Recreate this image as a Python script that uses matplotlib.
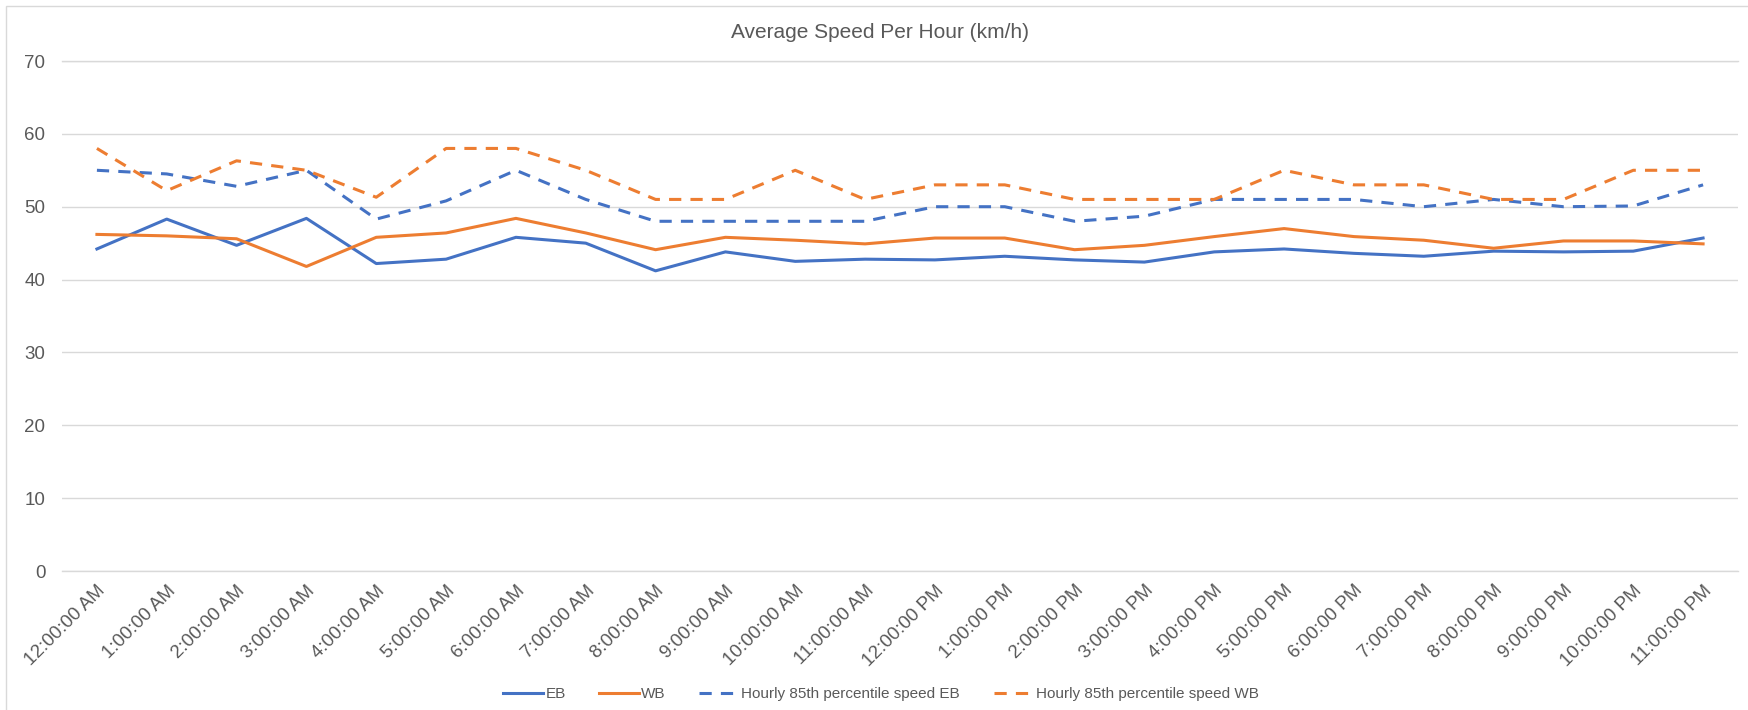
import matplotlib
matplotlib.use("Agg")
import matplotlib.pyplot as plt
from matplotlib.patches import Rectangle

hours = ["12:00:00 AM", "1:00:00 AM", "2:00:00 AM", "3:00:00 AM", "4:00:00 AM",
         "5:00:00 AM", "6:00:00 AM", "7:00:00 AM", "8:00:00 AM", "9:00:00 AM",
         "10:00:00 AM", "11:00:00 AM", "12:00:00 PM", "1:00:00 PM", "2:00:00 PM",
         "3:00:00 PM", "4:00:00 PM", "5:00:00 PM", "6:00:00 PM", "7:00:00 PM",
         "8:00:00 PM", "9:00:00 PM", "10:00:00 PM", "11:00:00 PM"]

eb = [44.2, 48.3, 44.7, 48.4, 42.2, 42.8, 45.8, 45.0, 41.2, 43.8, 42.5, 42.8,
      42.7, 43.2, 42.7, 42.4, 43.8, 44.2, 43.6, 43.2, 43.9, 43.8, 43.9, 45.7]
wb = [46.2, 46.0, 45.6, 41.8, 45.8, 46.4, 48.4, 46.4, 44.1, 45.8, 45.4, 44.9,
      45.7, 45.7, 44.1, 44.7, 45.9, 47.0, 45.9, 45.4, 44.3, 45.3, 45.3, 44.9]
p85_eb = [55, 54.5, 52.8, 55, 48.3, 50.8, 55, 51, 48, 48, 48, 48,
          50, 50, 48, 48.7, 51, 51, 51, 50, 51, 50, 50.1, 53]
p85_wb = [58, 52.2, 56.3, 55, 51.3, 58, 58, 55, 51, 51, 55, 51,
          53, 53, 51, 51, 51, 55, 53, 53, 51, 51, 55, 55]

blue = "#4472C4"
orange = "#ED7D31"
grey_txt = "#595959"
grid_c = "#D9D9D9"

plt.rcParams["font.family"] = ["Liberation Sans", "DejaVu Sans"]

fig = plt.figure(figsize=(17.49, 7.10), dpi=100)
ax = fig.add_axes([62 / 1749, 139 / 710, (1738 - 62) / 1749, (571 - 61) / 710])

x = list(range(len(hours)))
lw = 2.2
ax.plot(x, eb, color=blue, lw=lw, label="EB")
ax.plot(x, wb, color=orange, lw=lw, label="WB")
ax.plot(x, p85_eb, color=blue, lw=lw, dashes=(4, 3), label="Hourly 85th percentile speed EB")
ax.plot(x, p85_wb, color=orange, lw=lw, dashes=(4, 3), label="Hourly 85th percentile speed WB")

ax.set_xlim(-0.5, len(hours) - 0.5)
ax.set_ylim(0, 70)
ax.set_yticks(range(0, 71, 10))
ax.set_xticks(x)
ax.set_xticklabels(hours, rotation=45, ha="right", rotation_mode="anchor")
ax.tick_params(axis="both", length=0, labelsize=13.5, colors=grey_txt)
ax.tick_params(axis="y", pad=12)
ax.tick_params(axis="x", pad=8)
ax.grid(axis="y", color=grid_c, lw=1)
ax.axhline(0, color=grid_c, lw=1, clip_on=False, zorder=0.5)
ax.axhline(70, color=grid_c, lw=1, clip_on=False, zorder=0.5)
ax.set_axisbelow(True)
for s in ax.spines.values():
    s.set_visible(False)

fig.text(880 / 1749, 1 - 32 / 710, "Average Speed Per Hour (km/h)", ha="center", va="center",
         fontsize=15, color=grey_txt)

fig.legend(loc="center", bbox_to_anchor=(881 / 1749, 1 - 694 / 710), ncol=4, frameon=False,
           fontsize=11, labelcolor=grey_txt, handlelength=2.6, handletextpad=0.15,
           columnspacing=2.2)

# chart area border (top and left edges visible in the crop)
fig.patches.append(Rectangle((6 / 1749, -0.1), 1.2, 1.1 - 6 / 710, transform=fig.transFigure,
                             fill=False, edgecolor=grid_c, lw=1))

fig.savefig("out.png", dpi=100, facecolor="white")
